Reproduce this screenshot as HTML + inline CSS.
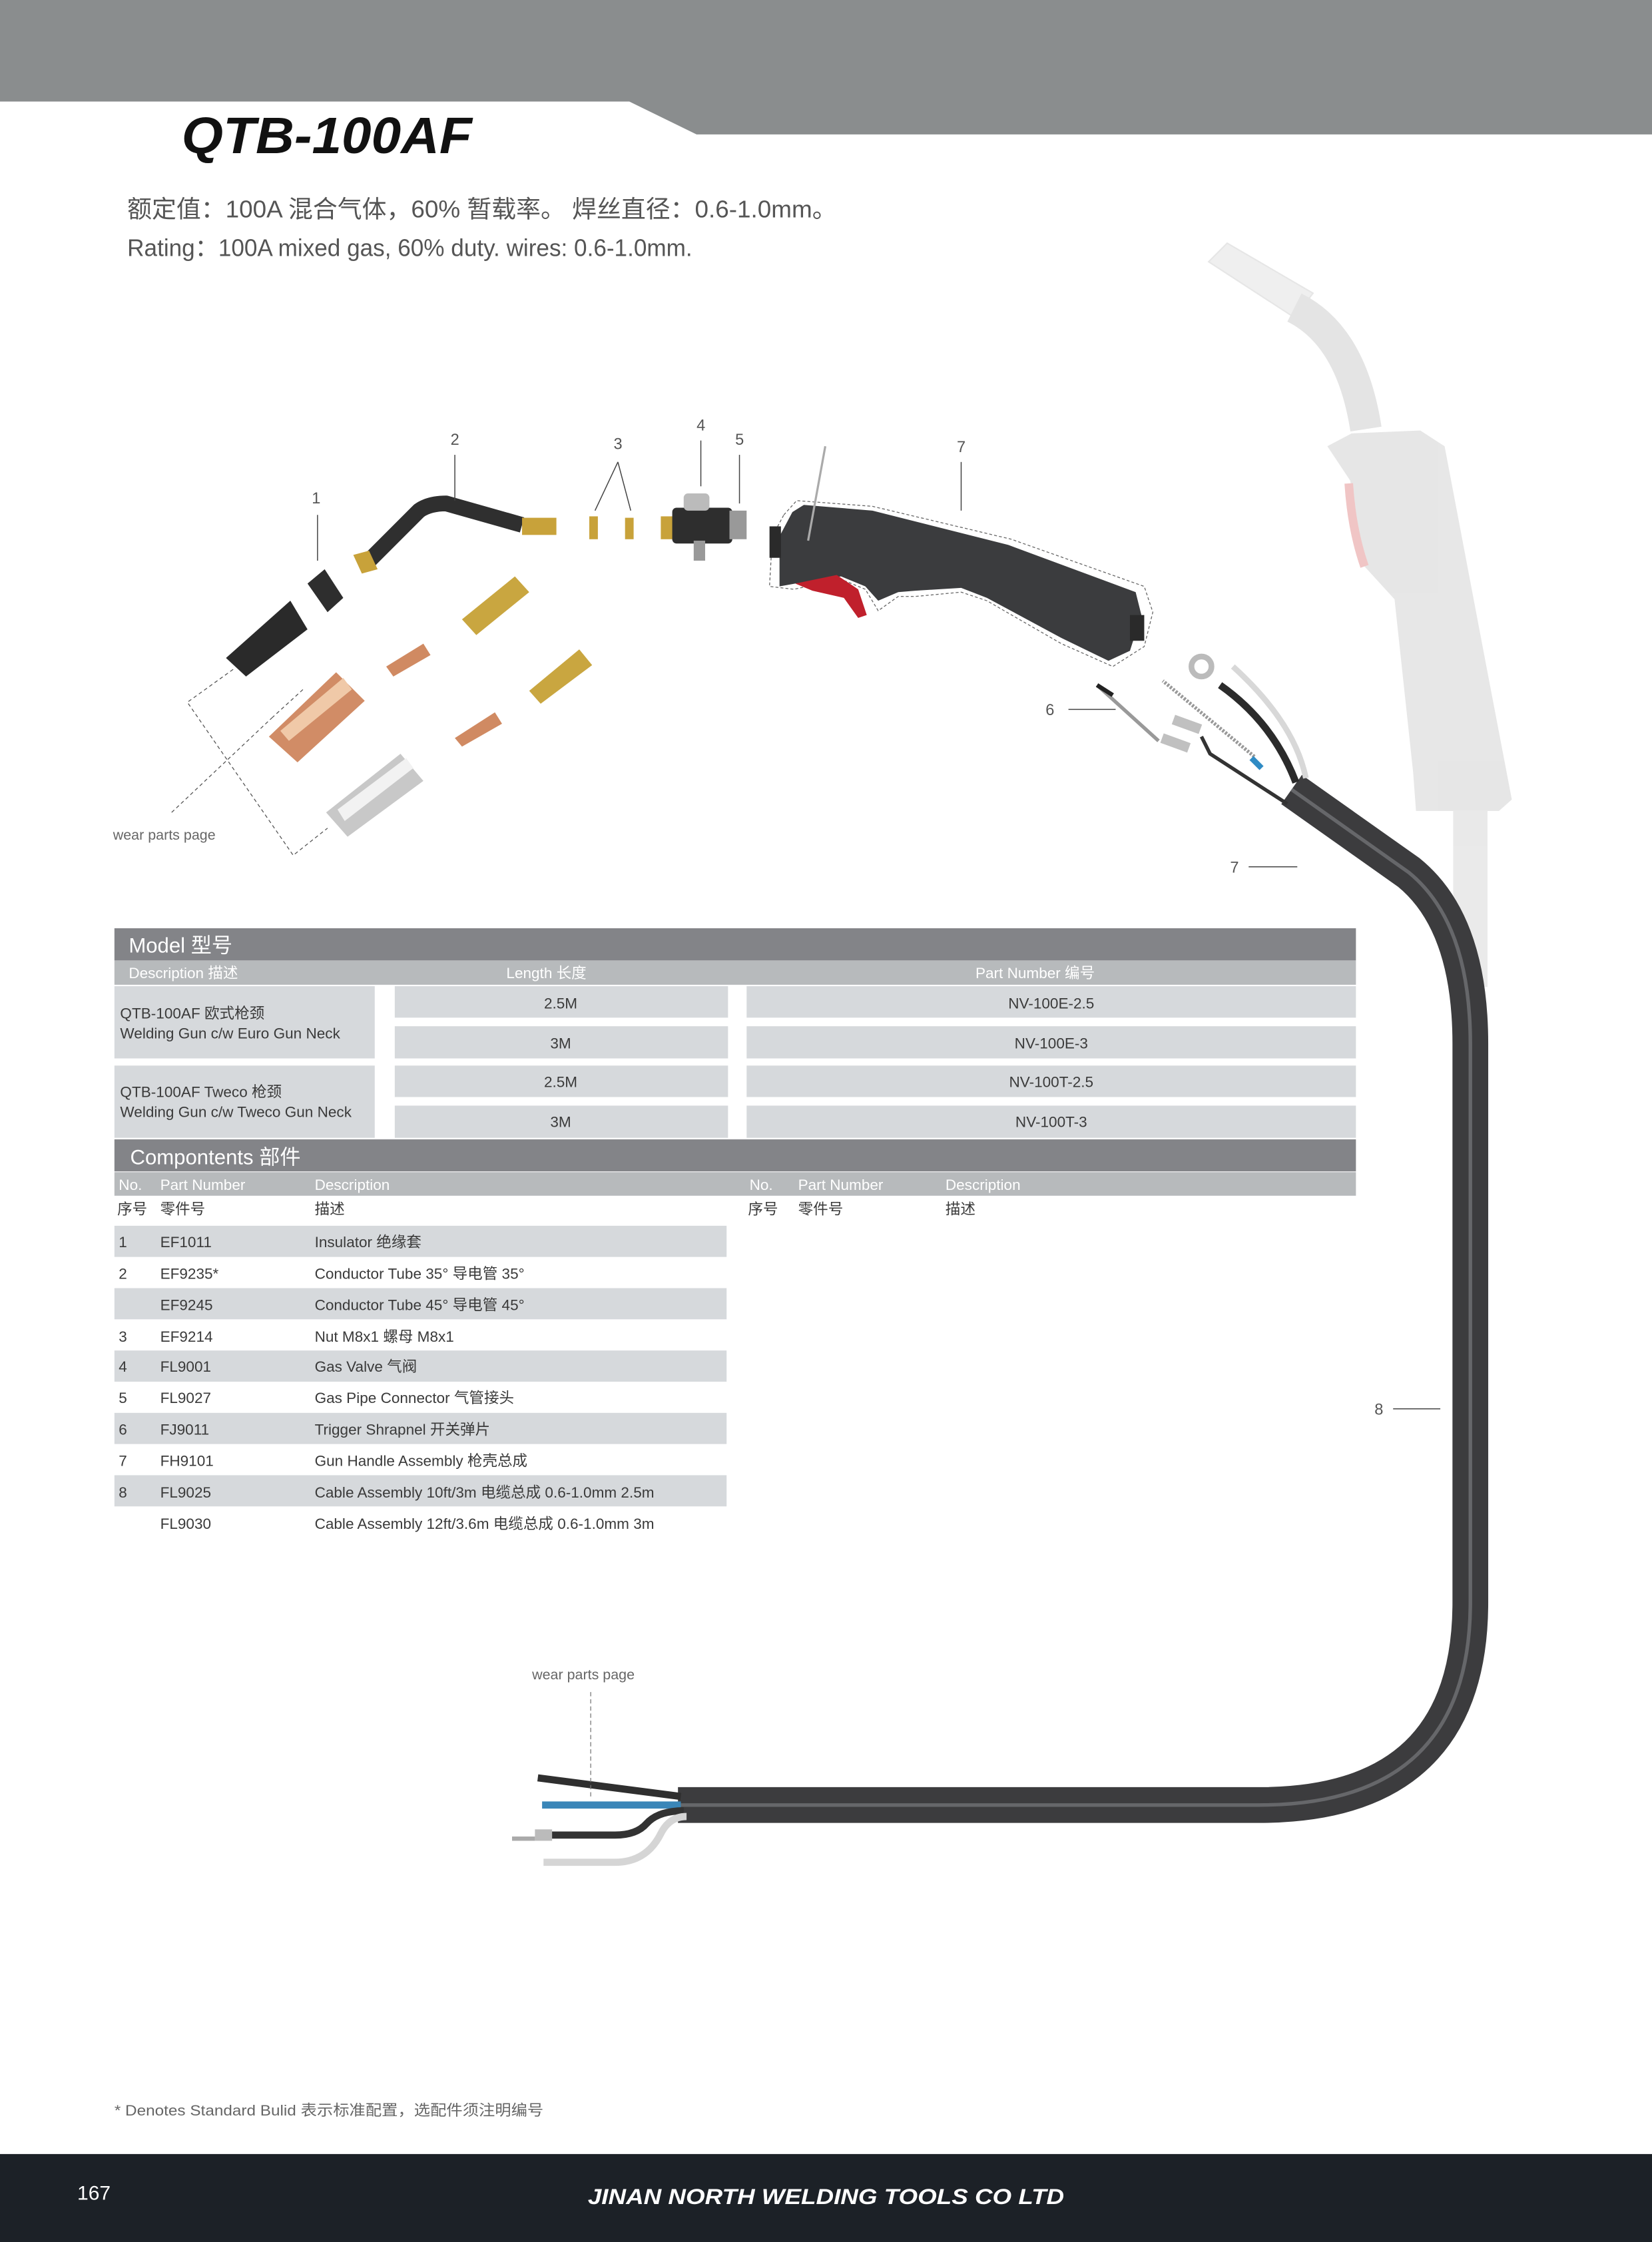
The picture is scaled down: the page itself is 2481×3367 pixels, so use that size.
<!DOCTYPE html>
<html><head><meta charset="utf-8"><style>
html,body{margin:0;padding:0;background:#fff;}
svg{display:block;}
text{font-family:"Liberation Sans","Noto Sans CJK SC",sans-serif;}
</style></head><body>
<svg width="2481" height="3367" viewBox="0 0 1155 1567.5" preserveAspectRatio="none" xmlns="http://www.w3.org/2000/svg">
<polygon points="0,0 1155,0 1155,94 487,94 440,71 0,71" fill="#8a8d8e"/>
<text x="127" y="107" font-size="36" font-weight="bold" font-style="italic" fill="#111" textLength="203" lengthAdjust="spacingAndGlyphs">QTB-100AF</text>
<text x="89" y="152" font-size="17" fill="#555" textLength="496" lengthAdjust="spacingAndGlyphs">额定值：100A 混合气体，60% 暂载率。 焊丝直径：0.6-1.0mm。</text>
<text x="89" y="179" font-size="17" fill="#555" textLength="395" lengthAdjust="spacingAndGlyphs">Rating：100A mixed gas, 60% duty. wires: 0.6-1.0mm.</text>

<g opacity="0.45">
  <polygon points="845,183 858,170 918,205 905,222" fill="#dcdcdc" stroke="#c8c8c8" stroke-width="1"/>
  <path d="M905,215 Q945,235 955,300" stroke="#c4c4c4" stroke-width="22" fill="none"/>
  <polygon points="928,312 945,303 993,301 1010,312 1040,470 1057,559 1048,567 990,567 988,540 975,419 954,396 944,336" fill="#c9c9c9"/>
  <path d="M943,338 Q945,370 954,396" stroke="#e08080" stroke-width="6" fill="none"/>
  <rect x="1016" y="567" width="24" height="123" fill="#d0d0d0"/>
</g>

<path d="M903,552 L985,610 Q1028,645 1028,730 L1028,1120 Q1028,1262 880,1262 L474,1262" stroke="#3c3c3e" stroke-width="25" fill="none"/>
<path d="M903,552 L985,610 Q1028,645 1028,730 L1028,1120 Q1028,1262 880,1262 L474,1262" stroke="#66676a" stroke-width="2.5" fill="none"/>
<path d="M476,1256 L376,1243" stroke="#2f2f2f" stroke-width="5" fill="none"/>
<path d="M476,1262 L379,1262" stroke="#3a86b8" stroke-width="5" fill="none"/>
<path d="M478,1266 Q460,1266 452,1275 Q445,1283 430,1283 L385,1283" stroke="#333" stroke-width="5" fill="none"/>
<rect x="374" y="1279" width="12" height="8" fill="#bbb"/>
<rect x="358" y="1284" width="16" height="3" fill="#aaa"/>
<path d="M480,1270 Q468,1270 462,1282 Q452,1302 430,1302 L380,1302" stroke="#d5d5d5" stroke-width="5" fill="none"/>
<line x1="413" y1="1183" x2="413" y2="1258" stroke="#777" stroke-width="0.6" stroke-dasharray="3,2"/>
<text x="372" y="1174" font-size="10" fill="#666">wear parts page</text>

<path d="M906,547 Q890,505 853,479" stroke="#2b2b2b" stroke-width="5" fill="none"/>
<circle cx="840" cy="466" r="7" fill="none" stroke="#bbb" stroke-width="4"/>
<path d="M913,544 Q905,505 862,466" stroke="#d8d8d8" stroke-width="4" fill="none"/>
<path d="M877,529 L813,476" stroke="#999" stroke-width="2.5" stroke-dasharray="1.5,1" fill="none"/>
<path d="M875,530 L882,537" stroke="#2f8bc4" stroke-width="4"/>
<path d="M900,562 L846,527 L840,515" stroke="#333" stroke-width="2.5" fill="none"/>
<rect x="820" y="503" width="20" height="7" fill="#c0c0c0" transform="rotate(20 830 506)"/>
<rect x="812" y="516" width="20" height="7" fill="#c0c0c0" transform="rotate(20 822 519)"/>
<path d="M767,479 L810,518" stroke="#999" stroke-width="2.5" fill="none"/>
<path d="M767,479 L778,486" stroke="#222" stroke-width="3"/>

<path d="M548,360 L557,350 L610,354 L707,377 L800,410 L806,428 L800,452 L778,466 L742,450 L690,420 L672,414 L640,417 L628,417 L614,427 L605,412 L588,405 L555,412 L538,410 L540,375 Z" fill="none" stroke="#666" stroke-width="0.6" stroke-dasharray="2,1.5"/>
<path d="M554,358 L562,353 L610,357 L705,381 L794,414 L798,430 L790,455 L775,462 L742,446 L690,418 L672,411 L640,413 L628,414 L614,420 L605,410 L588,403 L556,408 L545,410 L545,375 Z" fill="#3b3c3e"/>
<path d="M556,408 L585,402 L600,412 L606,430 L600,432 L590,418 L568,413 Z" fill="#c0202c"/>
<rect x="538" y="368" width="8" height="22" fill="#2a2a2a"/>
<rect x="790" y="430" width="10" height="18" fill="#2a2a2a"/>
<line x1="577" y1="312" x2="565" y2="378" stroke="#aaa" stroke-width="1.5"/>

<path d="M257,393 L293,357 Q300,352 312,352 L365,367" stroke="#2f2f2f" stroke-width="11" fill="none" stroke-linejoin="round"/>
<rect x="365" y="362" width="24" height="12" fill="#c8a23a"/>
<polygon points="247,388 258,385 264,398 253,401" fill="#c8a23a"/>
<rect x="412" y="361" width="6" height="16" fill="#c8a23a"/>
<rect x="437" y="362" width="6" height="15" fill="#c8a23a"/>
<rect x="462" y="361" width="10" height="16" fill="#c8a23a"/>
<rect x="470" y="355" width="42" height="25" rx="3" fill="#2e2e2e"/>
<rect x="478" y="345" width="18" height="12" rx="3" fill="#bbb"/>
<rect x="485" y="378" width="8" height="14" fill="#999"/>
<rect x="510" y="357" width="12" height="20" fill="#999"/>
<polygon points="215,408 227,398 240,418 229,428" fill="#2e2e2e"/>
<polygon points="158,460 203,420 215,440 172,473" fill="#2a2a2a"/>
<polygon points="188,515 235,470 255,490 208,533" fill="#d18c66"/>
<polygon points="196,511 240,474 246,482 202,518" fill="#f0c9a8"/>
<polygon points="228,568 280,527 296,546 243,585" fill="#c8c8c8"/>
<polygon points="236,566 284,530 289,537 241,574" fill="#f2f2f2"/>
<polygon points="323,433 360,403 370,414 333,444" fill="#c9a640"/>
<polygon points="370,483 405,454 414,465 378,492" fill="#c9a640"/>
<polygon points="270,466 296,450 301,458 275,473" fill="#d08a62"/>
<polygon points="318,516 346,498 351,506 323,522" fill="#d08a62"/>

<g stroke="#555" stroke-width="0.6" stroke-dasharray="2.5,2" fill="none">
<path d="M163,468 L131,491 L205,598 L229,579"/>
<path d="M120,568 L190,502"/>
<path d="M190,502 L213,481"/>
</g>
<text x="79" y="587" font-size="10" fill="#666">wear parts page</text>

<g font-size="11" fill="#555">
<text x="218" y="352">1</text><text x="315" y="311">2</text><text x="429" y="314">3</text>
<text x="487" y="301">4</text><text x="514" y="311">5</text><text x="669" y="316">7</text>
<text x="731" y="500">6</text><text x="860" y="610">7</text><text x="961" y="989">8</text>
</g>
<g stroke="#444" stroke-width="0.7">
<line x1="222" y1="360" x2="222" y2="392"/><line x1="318" y1="318" x2="318" y2="350"/>
<line x1="432" y1="323" x2="416" y2="357"/><line x1="432" y1="323" x2="441" y2="357"/>
<line x1="490" y1="308" x2="490" y2="340"/><line x1="517" y1="318" x2="517" y2="352"/>
<line x1="672" y1="323" x2="672" y2="357"/><line x1="747" y1="496" x2="780" y2="496"/>
<line x1="873" y1="606" x2="907" y2="606"/><line x1="974" y1="985" x2="1007" y2="985"/>
</g>

<rect x="80" y="649" width="868" height="22.5" fill="#838488"/>
<text x="90" y="666" font-size="14.5" fill="#fff">Model 型号</text>
<rect x="80" y="671.5" width="868" height="17" fill="#b7babc"/>
<g font-size="10.5" fill="#fff"><text x="90" y="684">Description 描述</text><text x="354" y="684">Length 长度</text><text x="682" y="684">Part Number 编号</text></g>
<g fill="#d6d9dc">
<rect x="80" y="689.5" width="182" height="50.5"/><rect x="80" y="745" width="182" height="50.5"/>
<rect x="276" y="689.5" width="233" height="22"/><rect x="276" y="717.5" width="233" height="22.5"/>
<rect x="276" y="745" width="233" height="22"/><rect x="276" y="773" width="233" height="22.5"/>
<rect x="522" y="689.5" width="426" height="22"/><rect x="522" y="717.5" width="426" height="22.5"/>
<rect x="522" y="745" width="426" height="22"/><rect x="522" y="773" width="426" height="22.5"/>
</g>
<g font-size="10.5" fill="#3a3a3a">
<text x="84" y="712">QTB-100AF 欧式枪颈</text><text x="84" y="726">Welding Gun c/w Euro Gun Neck</text>
<text x="84" y="767">QTB-100AF Tweco 枪颈</text><text x="84" y="781">Welding Gun c/w Tweco Gun Neck</text>
<g text-anchor="middle">
<text x="392" y="705">2.5M</text><text x="392" y="733">3M</text><text x="392" y="760">2.5M</text><text x="392" y="788">3M</text>
<text x="735" y="705">NV-100E-2.5</text><text x="735" y="733">NV-100E-3</text><text x="735" y="760">NV-100T-2.5</text><text x="735" y="788">NV-100T-3</text>
</g></g>

<rect x="80" y="796.6" width="868" height="22.4" fill="#838488"/>
<text x="91" y="814" font-size="14.5" fill="#fff">Compontents 部件</text>
<rect x="80" y="819.5" width="868" height="16.5" fill="#b7babc"/>
<g font-size="10.5" fill="#fff"><text x="83" y="832">No.</text><text x="112" y="832">Part Number</text><text x="220" y="832">Description</text>
<text x="524" y="832">No.</text><text x="558" y="832">Part Number</text><text x="661" y="832">Description</text></g>
<g font-size="10.5" fill="#3a3a3a"><text x="82" y="849">序号</text><text x="112" y="849">零件号</text><text x="220" y="849">描述</text>
<text x="523" y="849">序号</text><text x="558" y="849">零件号</text><text x="661" y="849">描述</text></g>
<g fill="#d6d9dc">
<rect x="80" y="857" width="428" height="21.8"/><rect x="80" y="900.6" width="428" height="21.8"/>
<rect x="80" y="944.2" width="428" height="21.8"/><rect x="80" y="987.8" width="428" height="21.8"/>
<rect x="80" y="1031.4" width="428" height="21.8"/>
</g>
<g font-size="10.5" fill="#3a3a3a">
<text x="83" y="872">1</text><text x="112" y="872">EF1011</text><text x="220" y="872">Insulator  绝缘套</text>
<text x="83" y="894">2</text><text x="112" y="894">EF9235*</text><text x="220" y="894">Conductor Tube 35°  导电管 35°</text>
<text x="112" y="916">EF9245</text><text x="220" y="916">Conductor Tube 45°  导电管 45°</text>
<text x="83" y="938">3</text><text x="112" y="938">EF9214</text><text x="220" y="938">Nut M8x1  螺母 M8x1</text>
<text x="83" y="959">4</text><text x="112" y="959">FL9001</text><text x="220" y="959">Gas Valve  气阀</text>
<text x="83" y="981">5</text><text x="112" y="981">FL9027</text><text x="220" y="981">Gas Pipe Connector  气管接头</text>
<text x="83" y="1003">6</text><text x="112" y="1003">FJ9011</text><text x="220" y="1003">Trigger Shrapnel  开关弹片</text>
<text x="83" y="1025">7</text><text x="112" y="1025">FH9101</text><text x="220" y="1025">Gun Handle Assembly 枪壳总成</text>
<text x="83" y="1047">8</text><text x="112" y="1047">FL9025</text><text x="220" y="1047">Cable Assembly 10ft/3m  电缆总成 0.6-1.0mm 2.5m</text>
<text x="112" y="1069">FL9030</text><text x="220" y="1069">Cable Assembly 12ft/3.6m  电缆总成 0.6-1.0mm 3m</text>
</g>

<text x="80" y="1479" font-size="10.5" fill="#666" textLength="300" lengthAdjust="spacingAndGlyphs">* Denotes Standard Bulid 表示标准配置，选配件须注明编号</text>
<rect x="0" y="1506" width="1155" height="62" fill="#1c2127"/>
<text x="54" y="1538" font-size="14" fill="#fff">167</text>
<text x="411" y="1541" font-size="15" font-weight="bold" font-style="italic" fill="#fff" textLength="333" lengthAdjust="spacingAndGlyphs">JINAN NORTH WELDING TOOLS CO LTD</text>
</svg>
</body></html>
